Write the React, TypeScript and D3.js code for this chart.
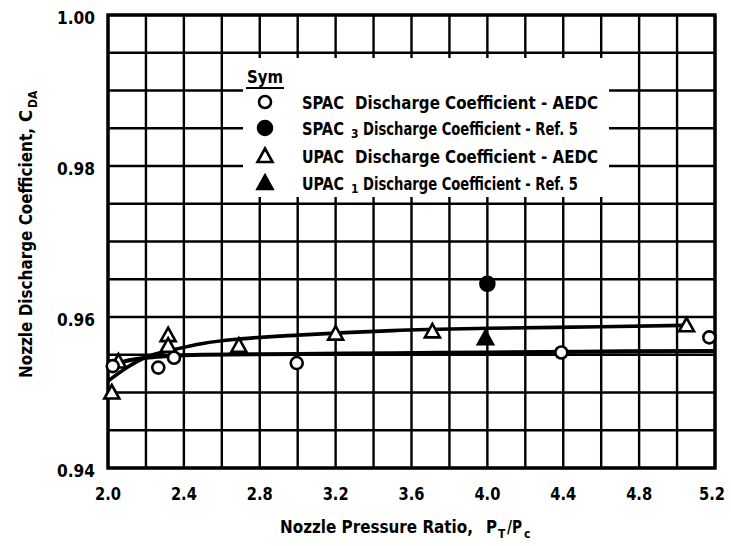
import React from "react";
import * as d3 from "d3";

const W = 731;
const H = 546;

const xDomain = [2.0, 5.2];
const yDomain = [0.94, 1.0];
const xTickValues = [2.0, 2.4, 2.8, 3.2, 3.6, 4.0, 4.4, 4.8, 5.2];
const yTickValues = [0.94, 0.96, 0.98, 1.0];
const xGridStep = 0.2;
const yGridStep = 0.005;

// SPAC discharge coefficient - AEDC (open circles)
const spacAedcX = [2.025, 2.265, 2.348, 2.995, 4.39, 5.17];
const spacAedcY = [0.9535, 0.9533, 0.9546, 0.9539, 0.9553, 0.9573];
// SPAC3 discharge coefficient - Ref. 5 (filled circle)
const spacRefX = [4.0];
const spacRefY = [0.9644];
// UPAC discharge coefficient - AEDC (open triangles)
const upacAedcX = [2.02, 2.055, 2.317, 2.317, 2.69, 3.2, 3.71, 5.05];
const upacAedcY = [0.95, 0.9541, 0.9576, 0.9562, 0.9562, 0.9578, 0.9581, 0.9589];
// UPAC1 discharge coefficient - Ref. 5 (filled triangle)
const upacRefX = [3.99];
const upacRefY = [0.9572];

// faired curves
const upacCurveX = [2.0, 2.1, 2.2, 2.35, 2.5, 2.7, 3.0, 3.5, 4.0, 4.6, 5.05];
const upacCurveY = [0.9515, 0.9533, 0.9547, 0.9557, 0.9565, 0.9571, 0.9576, 0.9582, 0.9585, 0.9587, 0.9589];
const spacCurveX = [2.03, 2.1, 2.2, 2.3, 2.5, 3.0, 3.5, 4.0, 4.5, 5.2];
const spacCurveY = [0.9537, 0.9542, 0.9546, 0.9548, 0.955, 0.9551, 0.9552, 0.9553, 0.9554, 0.9555];

const legendMain = ["SPAC", "SPAC", "UPAC", "UPAC"];
const legendSub = ["", "3", "", "1"];
const legendRest = [
  "Discharge Coefficient - AEDC",
  "Discharge Coefficient - Ref. 5",
  "Discharge Coefficient - AEDC",
  "Discharge Coefficient - Ref. 5",
];
const legendSymbols = ["openCircle", "filledCircle", "openTriangle", "filledTriangle"];

const FONT = "'DejaVu Sans Condensed', 'DejaVu Sans', sans-serif";

const x = d3.scaleLinear().domain(xDomain).range([108, 715]);
const y = d3.scaleLinear().domain(yDomain).range([468, 15]);

function zip(xs: number[], ys: number[]) {
  return xs.map((v, i) => [v, ys[i]] as [number, number]);
}

function Marker({ kind, cx, cy }: { kind: string; cx: number; cy: number }) {
  if (kind === "openCircle" || kind === "filledCircle") {
    const filled = kind === "filledCircle";
    return (
      <circle
        cx={cx}
        cy={cy}
        r={filled ? 7 : 6}
        fill={filled ? "#000" : "#fff"}
        stroke="#000"
        strokeWidth={2.6}
      />
    );
  }
  const filled = kind === "filledTriangle";
  const s = 7.5;
  const p = `M${cx},${cy - s}L${cx + s},${cy + s * 0.8}L${cx - s},${cy + s * 0.8}Z`;
  return <path d={p} fill={filled ? "#000" : "#fff"} stroke="#000" strokeWidth={2.6} strokeLinejoin="miter" />;
}

export default function App() {
  const xGrid = d3.range(xDomain[0], xDomain[1] + 1e-9, xGridStep);
  const yGrid = d3.range(yDomain[0], yDomain[1] + 1e-9, yGridStep);
  const line = d3
    .line<[number, number]>()
    .x((d) => x(d[0]))
    .y((d) => y(d[1]))
    .curve(d3.curveMonotoneX);

  const [x0, x1] = x.range();
  const [yb, yt] = y.range();

  const legendRowY = [102, 128, 156, 183];

  return (
    <svg
      width={W}
      height={H}
      style={{ position: "absolute", left: 0, top: 0, background: "#fff" }}
      fontFamily={FONT}
      fontWeight="bold"
    >
      <rect x={0} y={0} width={W} height={H} fill="#fff" />
      {/* grid */}
      <g stroke="#000" strokeWidth={2.4}>
        {xGrid.map((v, i) => (
          <line key={"gx" + i} x1={x(v)} x2={x(v)} y1={yt} y2={yb} />
        ))}
        {yGrid.map((v, i) => (
          <line key={"gy" + i} x1={x0} x2={x1} y1={y(v)} y2={y(v)} />
        ))}
      </g>
      {/* legend background */}
      <rect x={243} y={58} width={366} height={139} fill="#fff" />
      {/* border */}
      <rect x={x0} y={yt} width={x1 - x0} height={yb - yt} fill="none" stroke="#000" strokeWidth={3.4} />

      {/* curves */}
      <path d={line(zip(spacCurveX, spacCurveY)) || ""} fill="none" stroke="#000" strokeWidth={4.2} />
      <path d={line(zip(upacCurveX, upacCurveY)) || ""} fill="none" stroke="#000" strokeWidth={3.6} />

      {/* data points */}
      {zip(upacAedcX, upacAedcY).map((d, i) => (
        <Marker key={"ua" + i} kind="openTriangle" cx={x(d[0])} cy={y(d[1])} />
      ))}
      {zip(spacAedcX, spacAedcY).map((d, i) => (
        <Marker key={"sa" + i} kind="openCircle" cx={x(d[0])} cy={y(d[1])} />
      ))}
      {zip(spacRefX, spacRefY).map((d, i) => (
        <Marker key={"sr" + i} kind="filledCircle" cx={x(d[0])} cy={y(d[1])} />
      ))}
      {zip(upacRefX, upacRefY).map((d, i) => (
        <Marker key={"ur" + i} kind="filledTriangle" cx={x(d[0])} cy={y(d[1])} />
      ))}

      {/* y tick labels */}
      {yTickValues.map((v) => (
        <text key={"yt" + v} x={95} y={y(v) + 9} textAnchor="end" fontSize={18} textLength={38} lengthAdjust="spacingAndGlyphs">
          {d3.format(".2f")(v)}
        </text>
      ))}
      {/* x tick labels */}
      {xTickValues.map((v) => (
        <text key={"xt" + v} x={x(v) + (v === 5.2 ? -3 : 0)} y={500} textAnchor="middle" fontSize={18} textLength={26} lengthAdjust="spacingAndGlyphs">
          {d3.format(".1f")(v)}
        </text>
      ))}

      {/* x axis title */}
      <text x={280} y={533} fontSize={18} textLength={193} lengthAdjust="spacingAndGlyphs">
        Nozzle Pressure Ratio,
      </text>
      <text x={486} y={533} fontSize={18} textLength={11} lengthAdjust="spacingAndGlyphs">P</text>
      <text x={498} y={538} fontSize={12}>T</text>
      <text x={507} y={533} fontSize={18} textLength={15} lengthAdjust="spacingAndGlyphs">/P</text>
      <text x={524} y={538} fontSize={12}>c</text>

      {/* y axis title */}
      <g transform="translate(32,0) rotate(-90)">
        <text x={-378} y={0} fontSize={18} textLength={250} lengthAdjust="spacingAndGlyphs">
          Nozzle Discharge Coefficient,
        </text>
        <text x={-122} y={0} fontSize={18} textLength={12} lengthAdjust="spacingAndGlyphs">C</text>
        <text x={-108} y={5} fontSize={12}>DA</text>
      </g>

      {/* legend */}
      <text x={247} y={83} fontSize={18} textLength={36} lengthAdjust="spacingAndGlyphs">
        Sym
      </text>
      <line x1={246} x2={284} y1={88} y2={88} stroke="#000" strokeWidth={2.2} />
      {legendMain.map((m, i) => {
        const hasSub = legendSub[i] !== "";
        const restX = hasSub ? 363 : 355;
        const restW = hasSub ? 215 : 243;
        return (
          <g key={"lg" + i}>
            <Marker kind={legendSymbols[i]} cx={265} cy={legendRowY[i]} />
            <text x={302} y={legendRowY[i] + 6.5} fontSize={18} textLength={42} lengthAdjust="spacingAndGlyphs">
              {m}
            </text>
            {hasSub ? (
              <text x={351} y={legendRowY[i] + 10} fontSize={12}>
                {legendSub[i]}
              </text>
            ) : null}
            <text x={restX} y={legendRowY[i] + 6.5} fontSize={18} textLength={restW} lengthAdjust="spacingAndGlyphs">
              {legendRest[i]}
            </text>
          </g>
        );
      })}
    </svg>
  );
}
